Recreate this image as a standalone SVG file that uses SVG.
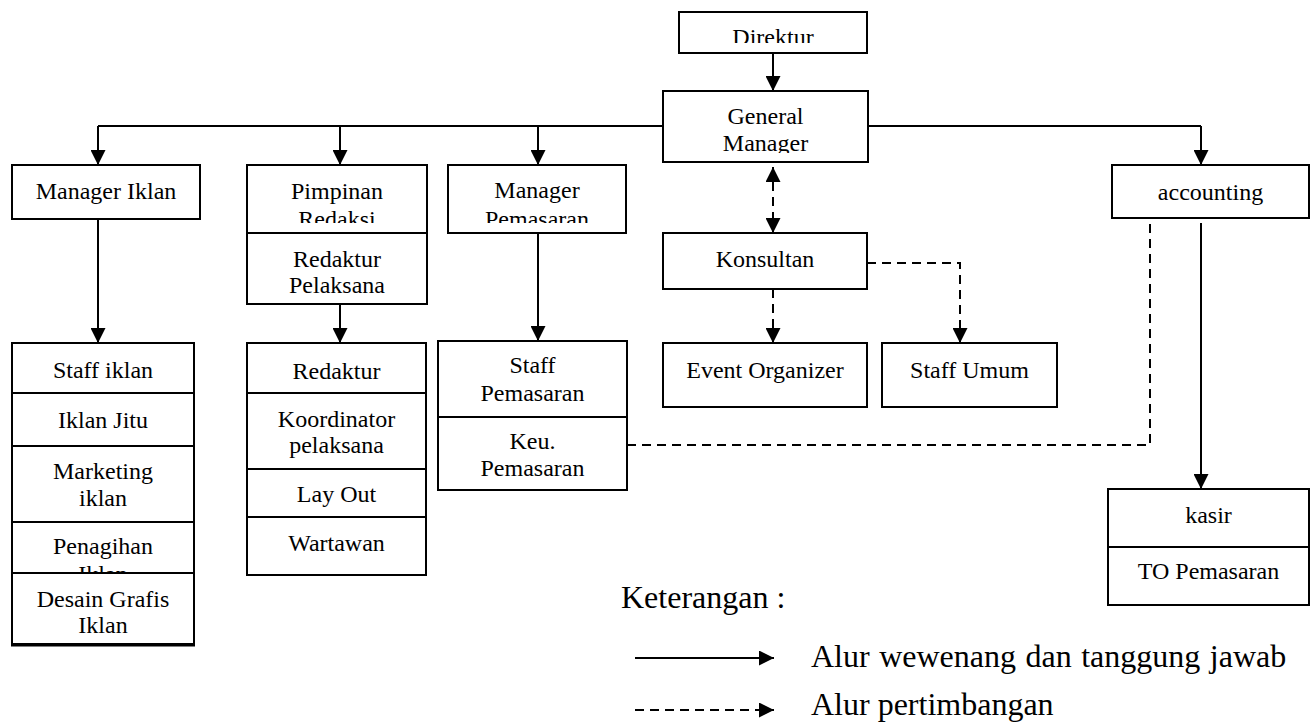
<svg xmlns="http://www.w3.org/2000/svg" width="1316" height="722" viewBox="0 0 1316 722">
<style>
.box{fill:#fff;stroke:#000;stroke-width:2}
.t{font-family:"Liberation Serif","Times New Roman",serif;font-size:24px;fill:#000;text-anchor:middle}
.lg{font-family:"Liberation Serif","Times New Roman",serif;font-size:32px;fill:#000}
.s{fill:none;stroke:#000;stroke-width:2}
.d{fill:none;stroke:#000;stroke-width:2;stroke-dasharray:9,6}
</style>
<defs>
<marker id="ah" viewBox="0 0 10 10" refX="10" refY="5" markerWidth="15" markerHeight="15" markerUnits="userSpaceOnUse" orient="auto-start-reverse">
<path d="M0,0 L10,5 L0,10 z" fill="#000"/>
</marker>
<clipPath id="cDir"><rect x="679" y="12" width="188" height="31"/></clipPath>
<clipPath id="cGM"><rect x="663" y="91" width="205" height="62"/></clipPath>
<clipPath id="cPR"><rect x="247" y="165" width="180" height="58"/></clipPath>
<clipPath id="cMP"><rect x="448" y="165" width="178" height="58"/></clipPath>
</defs>
<g id="connectors">
<path class="s" d="M98,126 H663 M868,126 H1201"/>
<path class="s" d="M773,53 V91" marker-end="url(#ah)"/>
<path class="s" d="M98,126 V165" marker-end="url(#ah)"/>
<path class="s" d="M340,126 V165" marker-end="url(#ah)"/>
<path class="s" d="M538,126 V165" marker-end="url(#ah)"/>
<path class="s" d="M1201,126 V165" marker-end="url(#ah)"/>
<path class="s" d="M98,219 V343" marker-end="url(#ah)"/>
<path class="s" d="M340,304 V343" marker-end="url(#ah)"/>
<path class="s" d="M538,233 V341" marker-end="url(#ah)"/>
<path class="s" d="M1201,223 V489" marker-end="url(#ah)"/>
<path class="d" d="M773,167 V233" marker-start="url(#ah)" marker-end="url(#ah)"/>
<path class="d" d="M773,289 V343" marker-end="url(#ah)"/>
<path class="d" d="M867,263 H960 V343" marker-end="url(#ah)"/>
<path class="d" d="M627,445 H1150 V218"/>
</g>
<g id="direktur"><rect class="box" x="679" y="12" width="188" height="41"/><text class="t" x="773" y="45" clip-path="url(#cDir)">Direktur</text></g>
<g id="general-manager"><rect class="box" x="663" y="91" width="205" height="71"/><g clip-path="url(#cGM)"><text class="t" x="765.5" y="124">General</text><text class="t" x="765.5" y="151">Manager</text></g></g>
<g id="manager-iklan"><rect class="box" x="12" y="165" width="188" height="54"/><text class="t" x="106" y="199">Manager Iklan</text></g>
<g id="pimpinan-redaksi"><rect class="box" x="247" y="165" width="180" height="68"/><g clip-path="url(#cPR)"><text class="t" x="337" y="199">Pimpinan</text><text class="t" x="337" y="227">Redaksi</text></g></g>
<g id="redaktur-pelaksana"><rect class="box" x="247" y="233" width="180" height="71"/><text class="t" x="337" y="267">Redaktur</text><text class="t" x="337" y="293">Pelaksana</text></g>
<g id="manager-pemasaran"><rect class="box" x="448" y="165" width="178" height="68"/><g clip-path="url(#cMP)"><text class="t" x="537" y="198">Manager</text><text class="t" x="537" y="227">Pemasaran</text></g></g>
<g id="accounting"><rect class="box" x="1112" y="165" width="197" height="53"/><text class="t" x="1210.5" y="200">accounting</text></g>
<g id="konsultan"><rect class="box" x="663" y="233" width="204" height="56"/><text class="t" x="765" y="267">Konsultan</text></g>
<g id="event-organizer"><rect class="box" x="663" y="343" width="204" height="64"/><text class="t" x="765" y="378">Event Organizer</text></g>
<g id="staff-umum"><rect class="box" x="882" y="343" width="175" height="64"/><text class="t" x="969.5" y="378">Staff Umum</text></g>
<g id="staff-iklan"><rect class="box" x="12" y="343" width="182" height="50"/><text class="t" x="103" y="378">Staff iklan</text></g>
<g id="iklan-jitu"><rect class="box" x="12" y="393" width="182" height="53"/><text class="t" x="103" y="428">Iklan Jitu</text></g>
<g id="marketing-iklan"><rect class="box" x="12" y="446" width="182" height="76"/><text class="t" x="103" y="479">Marketing</text><text class="t" x="103" y="506">iklan</text></g>
<g id="penagihan-iklan"><rect class="box" x="12" y="522" width="182" height="70"/><text class="t" x="103" y="554">Penagihan</text><text class="t" x="103" y="582">Iklan</text></g>
<g id="desain-grafis-iklan"><rect class="box" x="12" y="573" width="182" height="71"/><path d="M11,645 H195" stroke="#000" stroke-width="3"/><text class="t" x="103" y="607">Desain Grafis</text><text class="t" x="103" y="633">Iklan</text></g>
<g id="redaktur"><rect class="box" x="247" y="343" width="179" height="50"/><text class="t" x="336.5" y="379">Redaktur</text></g>
<g id="koordinator-pelaksana"><rect class="box" x="247" y="393" width="179" height="76"/><text class="t" x="336.5" y="427">Koordinator</text><text class="t" x="336.5" y="453">pelaksana</text></g>
<g id="lay-out"><rect class="box" x="247" y="469" width="179" height="48"/><text class="t" x="336.5" y="502">Lay Out</text></g>
<g id="wartawan"><rect class="box" x="247" y="517" width="179" height="58"/><text class="t" x="336.5" y="551">Wartawan</text></g>
<g id="staff-pemasaran"><rect class="box" x="438" y="341" width="189" height="76"/><text class="t" x="532.5" y="373">Staff</text><text class="t" x="532.5" y="401">Pemasaran</text></g>
<g id="keu-pemasaran"><rect class="box" x="438" y="417" width="189" height="73"/><text class="t" x="532.5" y="449">Keu.</text><text class="t" x="532.5" y="476">Pemasaran</text></g>
<g id="kasir"><rect class="box" x="1108" y="489" width="201" height="58"/><text class="t" x="1208.5" y="523">kasir</text></g>
<g id="to-pemasaran"><rect class="box" x="1108" y="547" width="201" height="58"/><text class="t" x="1208.5" y="579">TO Pemasaran</text></g>
<g id="legend">
<text class="lg" x="621" y="608">Keterangan :</text>
<path class="s" d="M635,658 H774" marker-end="url(#ah)"/>
<text class="lg" x="811" y="667" font-size="33" word-spacing="1.5">Alur wewenang dan tanggung jawab</text>
<path class="d" d="M635,710 H774" stroke-dasharray="8,6" marker-end="url(#ah)"/>
<text class="lg" x="811" y="715">Alur pertimbangan</text>
</g>
</svg>
